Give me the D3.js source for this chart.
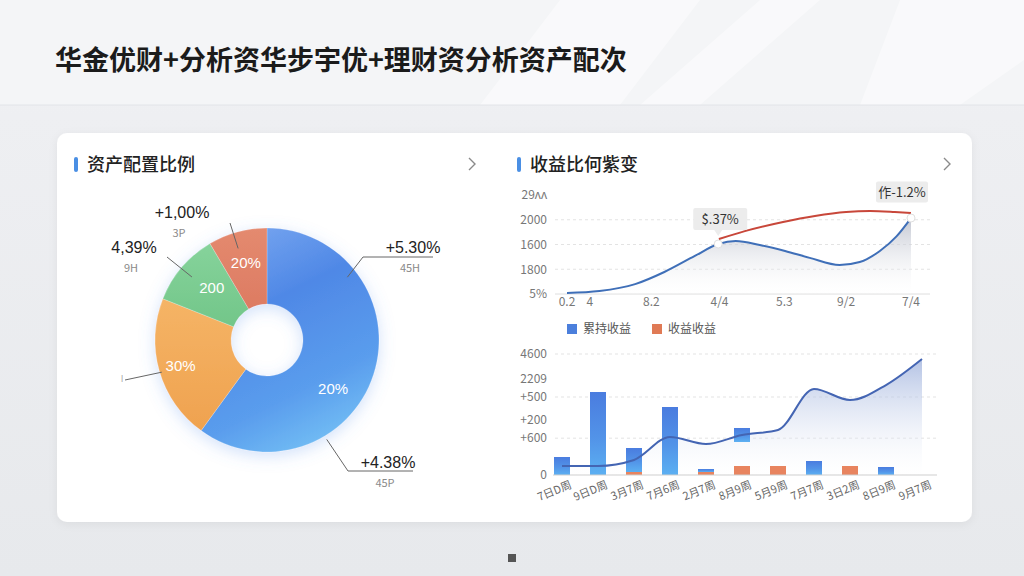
<!DOCTYPE html>
<html><head><meta charset="utf-8">
<script src="https://cdn.jsdelivr.net/npm/d3@7"></script>
<style>html,body{margin:0;padding:0;background:#eceef1;} svg{display:block;font-family:"Noto Sans CJK SC","Noto Sans","DejaVu Sans",sans-serif;}</style>
</head><body><svg id="c" width="1024" height="576"></svg>
<script>
// ---------- DATA ----------
const titleText = "华金优财+分析资华步宇优+理财资分析资产配次";
const leftTitle = "资产配置比例";
const rightTitle = "收益比何紫变";

const pieNames = ["稳健理财", "成长基金", "债券资产", "现金管理"];
const pieValues = [60, 21, 10.5, 8.5];
const pieInnerLabels = ["20%", "30%", "200", "20%"];
const calloutTexts = ["+5.30%", "+4.38%", "", "4,39%", "+1,00%"];
const calloutSubs = ["45H", "45P", "I", "9H", "3P"];

const topTickVals = [0, 0.35, 1.3, 2.35, 3.35, 4.3, 5.3];
const topTickLabels = ["0.2", "4", "8.2", "4/4", "5.3", "9/2", "7/4"];
const topYTicks = [0, 500, 1000, 1500, 2000];
const topYLabels = ["5%", "1800", "1600", "2000", "29ʌʌ"];
const blueX = [0, 0.5, 1.05, 1.5, 1.97, 2.33, 2.6, 2.97, 3.36, 3.74, 4.2, 4.51, 4.82, 5.08, 5.3];
const blueY = [20, 60, 200, 445, 770, 1010, 1070, 990, 870, 730, 585, 645, 870, 1170, 1535];
const redX = [2.34, 2.74, 3.33, 3.82, 4.3, 4.67, 5.05, 5.3];
const redY = [1110, 1270, 1455, 1575, 1655, 1675, 1655, 1635];
const annoTexts = ["$.37%", "作-1.2%"];

const legendLabels = ["累持收益", "收益收益"];
const barCats = ["7日D周", "9日D周", "3月7周", "7月6周", "2月7周", "8月9周", "5月9周", "7月7周", "3日2周", "8日9周", "9月7周"];
const holdStart = [0, 0, 114, 0, 114, 1255, 0, 0, 0, 0, 0];
const holdEnd = [684, 3155, 1026, 2585, 228, 1787, 0, 532, 0, 304, 0];
const gainValues = [0, 0, 114, 0, 114, 342, 342, 0, 342, 0, 0];
const trendValues = [342, 342, 570, 1445, 1178, 1521, 1711, 3269, 2851, 3421, 4410];
const botYTicks = [0, 1400, 2090, 2965, 3650, 4600];
const botYLabels = ["0", "+600", "+200", "+500", "2209", "4600"];

// ---------- DRAW ----------
const svg = d3.select("#c");
const defs = svg.append("defs");

function lg(id, x1, y1, x2, y2, stops) {
  const g = defs.append("linearGradient").attr("id", id)
    .attr("x1", x1).attr("y1", y1).attr("x2", x2).attr("y2", y2);
  stops.forEach(s => g.append("stop").attr("offset", s[0]).attr("stop-color", s[1]).attr("stop-opacity", s[2] == null ? 1 : s[2]));
}
lg("bg", 0, 0, 0, 1, [[0, "#f2f3f5"], [0.2, "#eeeff2"], [1, "#e7e9ec"]]);
lg("pBlue", 0.2, 0, 0.6, 1, [[0, "#78a6f0"], [0.35, "#4f88e6"], [0.75, "#5a9ded"], [1, "#72bdf4"]]);
lg("pOrange", 0, 0, 0, 1, [[0, "#f5b466"], [1, "#efa24f"]]);
lg("pGreen", 0, 0, 0, 1, [[0, "#86d39b"], [1, "#72c689"]]);
lg("pRed", 0, 0, 0, 1, [[0, "#e48a6f"], [1, "#dd7b62"]]);
lg("topArea", 0, 0, 0, 1, [[0, "#b3b8c6", 0.8], [1, "#ffffff", 0.1]]);
lg("botArea", 0, 0, 0, 1, [[0, "#9aaedb", 0.75], [1, "#ffffff", 0.15]]);
lg("barBlue", 0, 0, 0, 1, [[0, "#4a7cdf"], [0.55, "#5293e8"], [1, "#5cb0f2"]]);

const sh = defs.append("filter").attr("id", "cardShadow").attr("x", -0.05).attr("y", -0.05).attr("width", 1.1).attr("height", 1.1);
sh.append("feDropShadow").attr("dx", 0).attr("dy", 2).attr("stdDeviation", 4).attr("flood-color", "#000").attr("flood-opacity", 0.06);
const glow = defs.append("filter").attr("id", "pieGlow").attr("x", -0.3).attr("y", -0.3).attr("width", 1.6).attr("height", 1.6);
glow.append("feDropShadow").attr("dx", 0).attr("dy", 4).attr("stdDeviation", 8).attr("flood-color", "#5b95ec").attr("flood-opacity", 0.28);

// background
svg.append("rect").attr("width", 1024).attr("height", 576).attr("fill", "url(#bg)");
svg.append("rect").attr("width", 1024).attr("height", 105).attr("fill", "#f4f5f7");
[[[560, 0], [700, 0], [620, 105], [480, 105]], [[760, 0], [820, 0], [700, 105], [640, 105]], [[900, 0], [1024, 0], [1024, 60], [960, 105], [860, 105]]]
  .forEach(p => svg.append("polygon").attr("points", p.join(" ")).attr("fill", "#ffffff").attr("opacity", 0.45));
svg.append("line").attr("x1", 0).attr("x2", 1024).attr("y1", 105).attr("y2", 105).attr("stroke", "#e2e4e8");

svg.append("text").attr("x", 55).attr("y", 70).attr("font-size", 27).attr("font-weight", 700)
  .attr("fill", "#1b1b1b").text(titleText);

// card
svg.append("rect").attr("x", 57).attr("y", 133).attr("width", 915).attr("height", 389).attr("rx", 10)
  .attr("fill", "#ffffff").attr("filter", "url(#cardShadow)");

function header(x, y, txt, chevX) {
  svg.append("rect").attr("x", x).attr("y", y - 7).attr("width", 4).attr("height", 15).attr("rx", 2).attr("fill", "#4a8fe4");
  svg.append("text").attr("x", x + 13).attr("y", y + 6.5).attr("font-size", 18).attr("font-weight", 500).attr("fill", "#222").text(txt);
  svg.append("path").attr("d", `M${chevX - 3},${y - 6} L${chevX + 3},${y} L${chevX - 3},${y + 6}`)
    .attr("fill", "none").attr("stroke", "#8a8a8a").attr("stroke-width", 1.4);
}
header(74, 164, leftTitle, 472);
header(517, 164, rightTitle, 947);

// ---------- PIE ----------
const cx = 267, cy = 340, R = 112, r0 = 36;
const pie = d3.pie().sort(null).value(d => d)(pieValues);
const arc = d3.arc().innerRadius(r0).outerRadius(R);
const pieG = svg.append("g").attr("transform", `translate(${cx},${cy})`);
const fills = ["url(#pBlue)", "url(#pOrange)", "url(#pGreen)", "url(#pRed)"];
pieG.append("g").attr("filter", "url(#pieGlow)").selectAll("path").data(pie).join("path")
  .attr("d", arc).attr("fill", (d, i) => fills[i]).attr("stroke", "rgba(255,255,255,0.35)").attr("stroke-width", 0.6);

const innerAdj = [[0.32, 82], [0, 90], [0.05, 76], [0, 80]];
pieG.selectAll("text.in").data(pie).join("text").attr("class", "in")
  .attr("transform", (d, i) => {
    const a = (d.startAngle + d.endAngle) / 2 + innerAdj[i][0];
    const p = d3.pointRadial(a, innerAdj[i][1]);
    return `translate(${p[0]},${p[1]})`;
  })
  .attr("text-anchor", "middle").attr("dy", "0.36em").attr("font-size", 15).attr("fill", "#fff")
  .attr("font-family", "'Liberation Sans','DejaVu Sans',sans-serif")
  .text((d, i) => pieInnerLabels[i]);

// callouts: start angle(deg), start radius, path via points, text pos
const callouts = [
  { deg: 52, rad: 102, via: [[363, 257], [433, 257]], tx: 413, ty: 247 },
  { deg: 149, rad: 116, via: [[348, 471], [413, 471]], tx: 388, ty: 462 },
  { deg: 253, rad: 110, via: [[125, 380]], tx: 122, ty: 382 },
  { deg: 310, rad: 98, via: [[167, 257]], tx: 134, ty: 247 },
  { deg: 342.5, rad: 96, via: [[230, 223]], tx: 182, ty: 212 }
];
callouts.forEach((c, i) => {
  const p = d3.pointRadial(c.deg * Math.PI / 180, c.rad);
  const pts = [[cx + p[0], cy + p[1]]].concat(c.via);
  svg.append("path").attr("d", d3.line()(pts)).attr("fill", "none").attr("stroke", "#666").attr("stroke-width", 1);
  if (calloutTexts[i]) {
    svg.append("text").attr("x", c.tx).attr("y", c.ty).attr("dy", "0.36em").attr("text-anchor", "middle")
      .attr("font-size", 16).attr("font-family", "'Liberation Sans','DejaVu Sans',sans-serif").attr("fill", "#222").text(calloutTexts[i]);
    svg.append("text").attr("x", c.tx - 3).attr("y", c.ty + 21).attr("dy", "0.36em").attr("text-anchor", "middle")
      .attr("font-size", 11).attr("fill", "#8a8a8a").text(calloutSubs[i]);
  } else {
    svg.append("text").attr("x", c.tx).attr("y", c.ty).attr("text-anchor", "middle")
      .attr("font-size", 9).attr("fill", "#aaa").text(calloutSubs[i]);
  }
});

// ---------- TOP LINE CHART ----------
const xT = d3.scaleLinear().domain([0, 5.3]).range([567, 911]);
const yT = d3.scaleLinear().domain([0, 2000]).range([294, 195]);
const gT = svg.append("g");
topYTicks.forEach((v, i) => {
  if (i > 0 && i < 4) gT.append("line").attr("x1", 555).attr("x2", 930).attr("y1", yT(v)).attr("y2", yT(v))
    .attr("stroke", "#e3e3e3").attr("stroke-dasharray", "3,3");
  gT.append("text").attr("x", 547).attr("y", yT(v)).attr("dy", "0.36em").attr("text-anchor", "end")
    .attr("font-size", 12).attr("fill", "#777").text(topYLabels[i]);
});
gT.append("line").attr("x1", 555).attr("x2", 930).attr("y1", yT(0)).attr("y2", yT(0)).attr("stroke", "#dedede");
topTickVals.forEach((v, i) => {
  gT.append("text").attr("x", xT(v)).attr("y", 302).attr("dy", "0.36em").attr("text-anchor", "middle")
    .attr("font-size", 12).attr("fill", "#777").text(topTickLabels[i]);
});
const blueData = blueX.map((x, i) => [x, blueY[i]]);
const redData = redX.map((x, i) => [x, redY[i]]);
gT.append("path").datum(blueData)
  .attr("d", d3.area().x(d => xT(d[0])).y0(yT(0)).y1(d => yT(d[1])).curve(d3.curveMonotoneX))
  .attr("fill", "url(#topArea)");
gT.append("path").datum(blueData)
  .attr("d", d3.line().x(d => xT(d[0])).y(d => yT(d[1])).curve(d3.curveMonotoneX))
  .attr("fill", "none").attr("stroke", "#3f6fb8").attr("stroke-width", 2);
gT.append("path").datum(redData)
  .attr("d", d3.line().x(d => xT(d[0])).y(d => yT(d[1])).curve(d3.curveMonotoneX))
  .attr("fill", "none").attr("stroke", "#c8473a").attr("stroke-width", 2);
[blueData[5], blueData[blueData.length - 1]].forEach(d => {
  gT.append("circle").attr("cx", xT(d[0])).attr("cy", yT(d[1])).attr("r", 4).attr("fill", "#fff").attr("stroke", "#e0e0e0");
});
// annotations
const annos = [{ d: blueData[5], dx: 2, dy: -25, w: 54, h: 22, ptr: true }, { d: redData[redData.length - 1], dx: -9, dy: -21, w: 52, h: 21, ptr: false }];
annos.forEach((a, i) => {
  const px = xT(a.d[0]) + a.dx, py = yT(a.d[1]) + a.dy;
  gT.append("rect").attr("x", px - a.w / 2).attr("y", py - a.h / 2).attr("width", a.w).attr("height", a.h).attr("rx", 2).attr("fill", "#ececec");
  if (a.ptr) gT.append("path").attr("d", `M${px - 6},${py + a.h / 2} L${px - 2},${py + a.h / 2 + 6} L${px + 2},${py + a.h / 2}Z`).attr("fill", "#ececec");
  gT.append("text").attr("x", px).attr("y", py).attr("dy", "0.36em").attr("text-anchor", "middle")
    .attr("font-size", 13).attr("fill", "#333").text(annoTexts[i]);
});

// ---------- BOTTOM COMBO CHART ----------
const xB = d3.scalePoint().domain(barCats).range([562, 922]);
const yB = d3.scaleLinear().domain([0, 4600]).range([475, 354]);
const gB = svg.append("g");
// legend
const legColors = ["#4b7fdc", "#e07a55"];
const legX = [567, 652];
legendLabels.forEach((t, i) => {
  gB.append("rect").attr("x", legX[i]).attr("y", 324).attr("width", 10).attr("height", 10).attr("fill", legColors[i]);
  gB.append("text").attr("x", legX[i] + 16).attr("y", 329).attr("dy", "0.36em").attr("font-size", 12).attr("fill", "#555").text(t);
});
const gridIdx = [1, 3, 5];
botYTicks.forEach((v, i) => {
  if (gridIdx.includes(i)) gB.append("line").attr("x1", 555).attr("x2", 937).attr("y1", yB(v)).attr("y2", yB(v))
    .attr("stroke", "#e3e3e3").attr("stroke-dasharray", "3,3");
  gB.append("text").attr("x", 547).attr("y", yB(v)).attr("dy", "0.36em").attr("text-anchor", "end")
    .attr("font-size", 12).attr("fill", "#777").text(botYLabels[i]);
});
const trendData = barCats.map((c, i) => [c, trendValues[i]]);
gB.append("path").datum(trendData)
  .attr("d", d3.area().x(d => xB(d[0])).y0(yB(0)).y1(d => yB(d[1])).curve(d3.curveMonotoneX))
  .attr("fill", "url(#botArea)");
const bw = 16;
gB.selectAll("rect.g").data(barCats).join("rect").attr("class", "g")
  .attr("x", d => xB(d) - bw / 2).attr("width", bw)
  .attr("y", (d, i) => yB(gainValues[i])).attr("height", (d, i) => yB(0) - yB(gainValues[i]))
  .attr("fill", "#e8845f");
gB.selectAll("rect.h").data(barCats).join("rect").attr("class", "h")
  .attr("x", d => xB(d) - bw / 2).attr("width", bw)
  .attr("y", (d, i) => yB(holdEnd[i])).attr("height", (d, i) => Math.max(0, yB(holdStart[i]) - yB(holdEnd[i])))
  .attr("fill", "url(#barBlue)");
gB.append("path").datum(trendData)
  .attr("d", d3.line().x(d => xB(d[0])).y(d => yB(d[1])).curve(d3.curveMonotoneX))
  .attr("fill", "none").attr("stroke", "#4465b3").attr("stroke-width", 2);
gB.append("line").attr("x1", 553).attr("x2", 937).attr("y1", yB(0)).attr("y2", yB(0)).attr("stroke", "#cfcfcf");
barCats.forEach(c => {
  gB.append("text").attr("transform", `translate(${xB(c) + 9},${484}) rotate(-22)`)
    .attr("text-anchor", "end").attr("dy", "0.36em").attr("font-size", 11).attr("fill", "#666").text(c);
});

// bottom indicator
svg.append("rect").attr("x", 508).attr("y", 554).attr("width", 8).attr("height", 8).attr("fill", "#555");
</script></body></html>
